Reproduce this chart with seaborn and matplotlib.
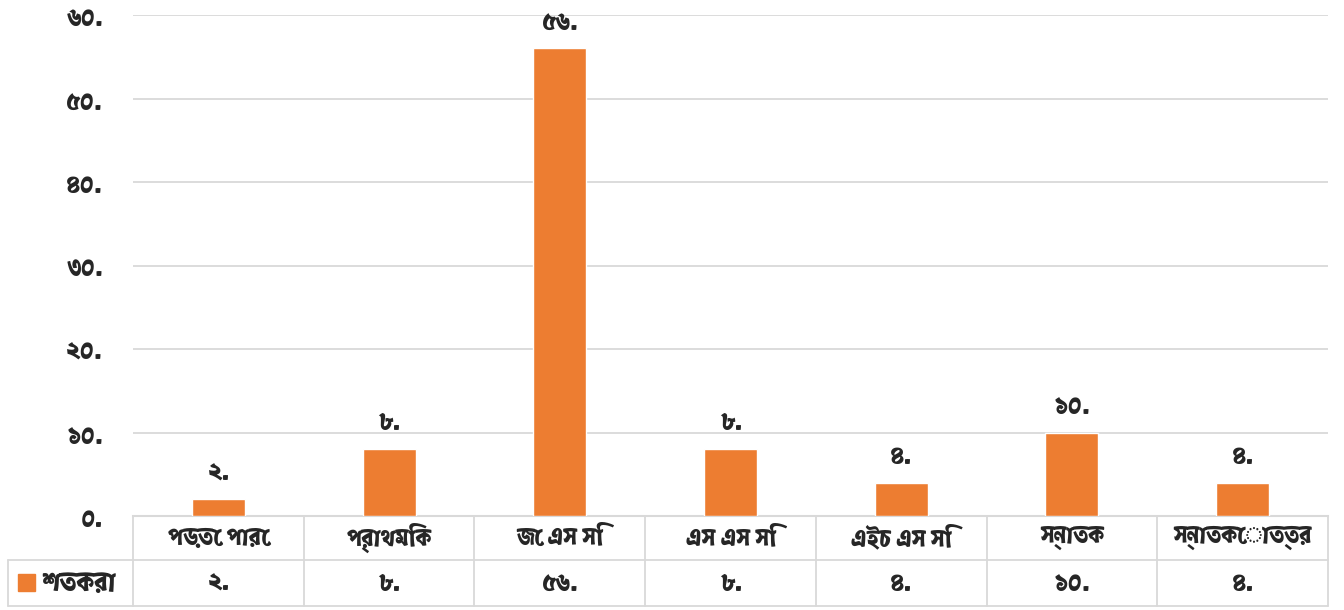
import matplotlib
matplotlib.use("Agg")
import matplotlib.pyplot as plt
from matplotlib import font_manager
from matplotlib.ft2font import FT2Font
import seaborn as sns
import pandas as pd

categories = ["পড়তে পারে", "প্রাথমিক", "জে এস সি", "এস এস সি", "এইচ এস সি", "স্নাতক", "স্নাতকোত্তর"]
values = [2, 8, 56, 8, 4, 10, 4]
value_labels = ["২.", "৮.", "৫৬.", "৮.", "৪.", "১০.", "৪."]
ytick_values = [0, 10, 20, 30, 40, 50, 60]
ytick_labels = ["০.", "১০.", "২০.", "৩০.", "৪০.", "৫০.", "৬০."]
series_name = "শতকরা"

# find a font with Bengali glyphs, if any
beng_family = None
for f in font_manager.fontManager.ttflist:
    try:
        ft = FT2Font(f.fname)
        if ft.get_char_index(0x0995):
            beng_family = f.name
            if f.weight in ("bold", 700) or "Bold" in f.fname:
                break
    except Exception:
        pass

sns.set_theme(style="white")
fams = ([beng_family] if beng_family else []) + ["DejaVu Sans"]
plt.rcParams["font.family"] = fams

fig = plt.figure(figsize=(13.44, 6.10), dpi=100)
ax = fig.add_axes([133 / 1344, 1 - 516 / 610, (1328 - 133) / 1344, (516 - 15) / 610])

df = pd.DataFrame({"cat": categories, "val": values})
sns.barplot(data=df, x="cat", y="val", color="#ED7D31", saturation=1, width=0.31, ax=ax, zorder=3)

ax.set_ylim(0, 60)
ax.set_xlim(-0.5, len(categories) - 0.5)
ax.set_yticks(ytick_values)
ax.set_yticklabels(ytick_labels, fontsize=19, fontweight="bold")
ax.tick_params(axis="y", length=0, pad=22)
ax.set_xticks([])
ax.set_xlabel("")
ax.set_ylabel("")
grid_c = "#d9d9d9"
for v in ytick_values[1:]:
    ax.axhline(v, color=grid_c, lw=1.3, zorder=1)
for s in ["top", "right", "left"]:
    ax.spines[s].set_visible(False)
ax.spines["bottom"].set_color(grid_c)
ax.spines["bottom"].set_linewidth(1.5)

# data labels
for i, (v, lab) in enumerate(zip(values, value_labels)):
    ax.annotate(lab, (i, v), xytext=(0, 10), textcoords="offset points",
                ha="center", va="bottom", fontsize=19, fontweight="bold")

# data table below
trans = ax.get_xaxis_transform()
axh = (516 - 15)
r1 = -(560 - 516) / axh
r2 = -(606 - 516) / axh
n = len(categories)
for k in range(n + 1):
    ax.plot([k - 0.5, k - 0.5], [0, r2], color=grid_c, lw=1.3, transform=trans, clip_on=False)
ax.plot([-0.5, n - 0.5], [r1, r1], color=grid_c, lw=1.3, transform=trans, clip_on=False)
ax.plot([-0.5, n - 0.5], [r2, r2], color=grid_c, lw=1.3, transform=trans, clip_on=False)
for i, (c, lab) in enumerate(zip(categories, value_labels)):
    ax.text(i, r1 / 2, c, transform=trans, ha="center", va="center", fontsize=17, fontweight="bold")
    ax.text(i, (r1 + r2) / 2, lab, transform=trans, ha="center", va="center", fontsize=19, fontweight="bold")

# legend cell
fy1 = 1 - 560 / 610
fy2 = 1 - 606 / 610
fx0 = 8 / 1344
fx1 = 133 / 1344
fig.add_artist(plt.Line2D([fx0, fx1], [fy1, fy1], color=grid_c, lw=1.3))
fig.add_artist(plt.Line2D([fx0, fx1], [fy2, fy2], color=grid_c, lw=1.3))
fig.add_artist(plt.Line2D([fx0, fx0], [fy1, fy2], color=grid_c, lw=1.3))
fig.add_artist(plt.Rectangle((18 / 1344, 1 - 591 / 610), 17 / 1344, 17 / 610, color="#ED7D31", transform=fig.transFigure))
fig.text(42 / 1344, (fy1 + fy2) / 2, series_name, ha="left", va="center", fontsize=19, fontweight="bold")

fig.savefig("out.png", dpi=100)
